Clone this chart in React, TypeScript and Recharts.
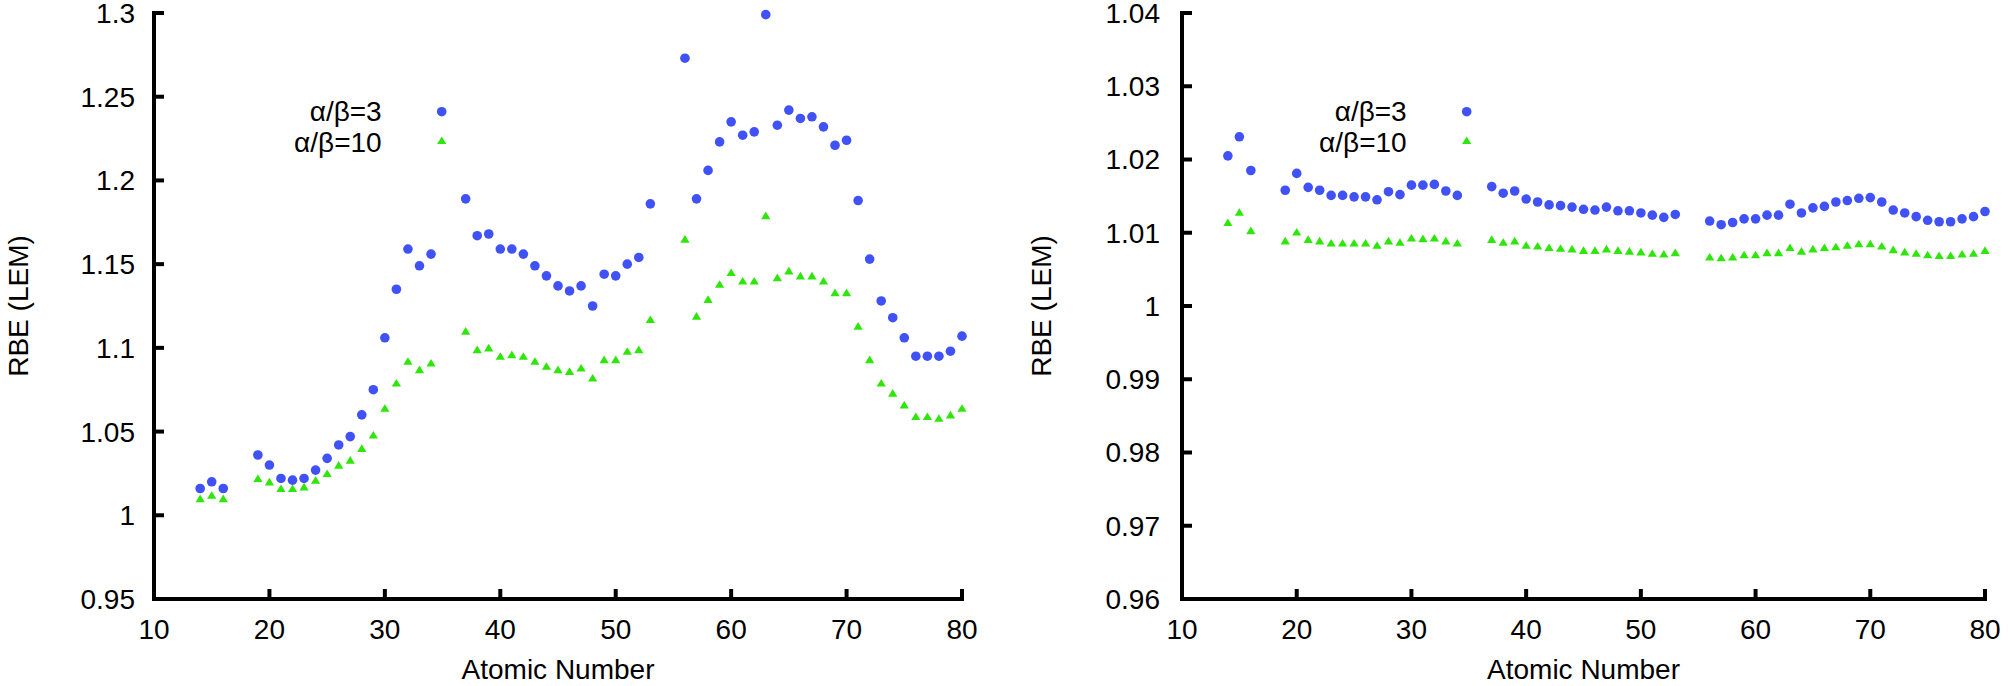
import { ScatterChart, Scatter, XAxis, YAxis, Legend } from "recharts";

// atomic numbers of the ions (Z = 17, 18, 35, 36, 54, 55 are not in the set)
const atomicNumbers = [
  14, 15, 16, 19, 20, 21, 22, 23, 24, 25, 26, 27, 28, 29, 30, 31, 32, 33, 34,
  37, 38, 39, 40, 41, 42, 43, 44, 45, 46, 47, 48, 49, 50, 51, 52, 53, 56, 57,
  58, 59, 60, 61, 62, 63, 64, 65, 66, 67, 68, 69, 70, 71, 72, 73, 74, 75, 76,
  77, 78, 79, 80,
];

const seriesNames = ["α/β=3", "α/β=10"];

// left panel
const leftAb3 = [
  1.016, 1.02, 1.016, 1.036, 1.03, 1.022, 1.021, 1.022, 1.027, 1.034, 1.042,
  1.047, 1.06, 1.075, 1.106, 1.135, 1.159, 1.149, 1.156, 1.189, 1.167, 1.168,
  1.159, 1.159, 1.156, 1.149, 1.143, 1.137, 1.134, 1.137, 1.125, 1.144, 1.143,
  1.15, 1.154, 1.186, 1.273, 1.189, 1.206, 1.223, 1.235, 1.227, 1.229, 1.299,
  1.233, 1.242, 1.237, 1.238, 1.232, 1.221, 1.224, 1.188, 1.153, 1.128, 1.118,
  1.106, 1.095, 1.095, 1.095, 1.098, 1.107,
];
const leftAb10 = [
  1.01, 1.012, 1.01, 1.022, 1.02, 1.016, 1.016, 1.017, 1.021, 1.025, 1.03,
  1.033, 1.04, 1.048, 1.064, 1.079, 1.092, 1.087, 1.091, 1.11, 1.099, 1.1,
  1.095, 1.096, 1.095, 1.092, 1.089, 1.087, 1.086, 1.088, 1.082, 1.093, 1.093,
  1.098, 1.099, 1.117, 1.165, 1.119, 1.129, 1.138, 1.145, 1.14, 1.14, 1.179,
  1.142, 1.146, 1.143, 1.143, 1.14, 1.133, 1.133, 1.113, 1.093, 1.079, 1.073,
  1.066, 1.059, 1.059, 1.058, 1.06, 1.064,
];
const leftTicksY = [0.95, 1, 1.05, 1.1, 1.15, 1.2, 1.25, 1.3];

// right panel
const rightAb3 = [
  1.0205, 1.0231, 1.0185, 1.0158, 1.0181, 1.0162, 1.0158, 1.0151, 1.0151,
  1.0149, 1.0149, 1.0145, 1.0156, 1.0152, 1.0165, 1.0165, 1.0166, 1.0157,
  1.0151, 1.0163, 1.0154, 1.0157, 1.0146, 1.0142, 1.0138, 1.0137, 1.0135,
  1.0132, 1.0131, 1.0135, 1.013, 1.013, 1.0127, 1.0124, 1.0121, 1.0125,
  1.0116, 1.0111, 1.0114, 1.0119, 1.0119, 1.0124, 1.0124, 1.0139, 1.0127,
  1.0134, 1.0136, 1.0142, 1.0144, 1.0147, 1.0148, 1.0142, 1.0131, 1.0127,
  1.0122, 1.0117, 1.0115, 1.0115, 1.0119, 1.0122, 1.0129,
];
const rightAb10 = [
  1.0114, 1.0128, 1.0103, 1.0089, 1.0101, 1.0091, 1.0089, 1.0086, 1.0086,
  1.0086, 1.0086, 1.0083, 1.0089, 1.0087, 1.0093, 1.0092, 1.0093, 1.0089,
  1.0086, 1.0091, 1.0087, 1.0089, 1.0083, 1.0082, 1.008, 1.0079, 1.0078,
  1.0076, 1.0076, 1.0078, 1.0076, 1.0075, 1.0074, 1.0072, 1.0071, 1.0073,
  1.0067, 1.0066, 1.0067, 1.007, 1.007, 1.0073, 1.0073, 1.008, 1.0075,
  1.0078, 1.008, 1.0081, 1.0083, 1.0085, 1.0085, 1.0082, 1.0077, 1.0074,
  1.0072, 1.007, 1.0069, 1.0069, 1.0071, 1.0072, 1.0076,
];
const rightTicksY = [0.96, 0.97, 0.98, 0.99, 1, 1.01, 1.02, 1.03, 1.04];

const xTicks = [10, 20, 30, 40, 50, 60, 70, 80];

const BLUE = "#4052f5";
const GREEN = "#2ee60a";
const FONT = "'Liberation Sans', Arial, sans-serif";

const toPoints = (vals: number[]) =>
  atomicNumbers.map((z, i) => ({ z, v: vals[i] }));

const Dot = (props: any) => (
  <circle cx={props.cx} cy={props.cy} r={4.8} fill={BLUE} />
);

const Tri = (props: any) => {
  const { cx, cy } = props;
  return (
    <polygon
      points={`${cx - 4.6},${cy + 3.6} ${cx + 4.6},${cy + 3.6} ${cx},${cy - 4}`}
      fill={GREEN}
    />
  );
};

const KeyBox = () => (
  <svg width={230} height={70} style={{ display: "block" }}>
    <text x={151.7} y={30.7} textAnchor="end" fontSize={28} fontFamily={FONT} fill="#000">
      {seriesNames[0]}
    </text>
    <text x={151.7} y={61.7} textAnchor="end" fontSize={28} fontFamily={FONT} fill="#000">
      {seriesNames[1]}
    </text>
    <Dot cx={211.7} cy={21.7} />
    <Tri cx={211.7} cy={50.5} />
  </svg>
);

interface IPanel {
  ab3: number[];
  ab10: number[];
  yTicks: number[];
  width: number;
  yAxisWidth: number;
  marginRight: number;
  yTickMargin: number;
  yTitleOffset: number;
  keyLeft: number;
}

const axisLine = { stroke: "#000", strokeWidth: 4, strokeLinecap: "square" as const };
const tickLine = { stroke: "#000", strokeWidth: 4 };
const tickText = { fill: "#000", fontSize: 28, fontFamily: FONT };

const Panel = ({
  ab3,
  ab10,
  yTicks,
  width,
  yAxisWidth,
  marginRight,
  yTickMargin,
  yTitleOffset,
  keyLeft,
}: IPanel) => (
  <ScatterChart
    width={width}
    height={686}
    margin={{ top: 13, right: marginRight, bottom: 0, left: 0 }}
  >
    <XAxis
      type="number"
      dataKey="z"
      domain={[10, 80]}
      ticks={xTicks}
      interval={0}
      height={87}
      axisLine={axisLine}
      tickLine={tickLine}
      tickSize={-10}
      tickMargin={30}
      tick={tickText}
      label={{
        value: "Atomic Number",
        position: "insideBottom",
        offset: 7,
        fontSize: 28,
        fontFamily: FONT,
        fill: "#000",
      }}
    />
    <YAxis
      type="number"
      dataKey="v"
      domain={[yTicks[0], yTicks[yTicks.length - 1]]}
      ticks={yTicks}
      interval={0}
      width={yAxisWidth}
      axisLine={axisLine}
      tickLine={tickLine}
      tickSize={-10}
      tickMargin={yTickMargin}
      tick={tickText}
      tickFormatter={(v: number) => String(+v.toFixed(2))}
      label={{
        value: "RBE (LEM)",
        angle: -90,
        position: "insideLeft",
        offset: yTitleOffset,
        fontSize: 28,
        fontFamily: FONT,
        fill: "#000",
        style: { textAnchor: "middle" },
      }}
    />
    <Legend
      layout="horizontal"
      verticalAlign="middle"
      align="center"
      content={() => <KeyBox />}
      wrapperStyle={{ position: "absolute", left: keyLeft, top: 90, width: 230 }}
    />
    <Scatter
      name={seriesNames[0]}
      data={toPoints(ab3)}
      shape={Dot}
      isAnimationActive={false}
    />
    <Scatter
      name={seriesNames[1]}
      data={toPoints(ab10)}
      shape={Tri}
      isAnimationActive={false}
    />
  </ScatterChart>
);

export default function App() {
  return (
    <div
      style={{
        position: "absolute",
        left: 0,
        top: 0,
        width: 2008,
        height: 686,
        background: "#fff",
        overflow: "hidden",
      }}
    >
      <div style={{ position: "absolute", left: 0, top: 0 }}>
        <Panel
          ab3={leftAb3}
          ab10={leftAb10}
          yTicks={leftTicksY}
          width={1000}
          yAxisWidth={154}
          marginRight={38}
          yTickMargin={29}
          yTitleOffset={18}
          keyLeft={230}
        />
      </div>
      <div style={{ position: "absolute", left: 1000, top: 0 }}>
        <Panel
          ab3={rightAb3}
          ab10={rightAb10}
          yTicks={rightTicksY}
          width={1008}
          yAxisWidth={182}
          marginRight={23}
          yTickMargin={32}
          yTitleOffset={41}
          keyLeft={255}
        />
      </div>
    </div>
  );
}
